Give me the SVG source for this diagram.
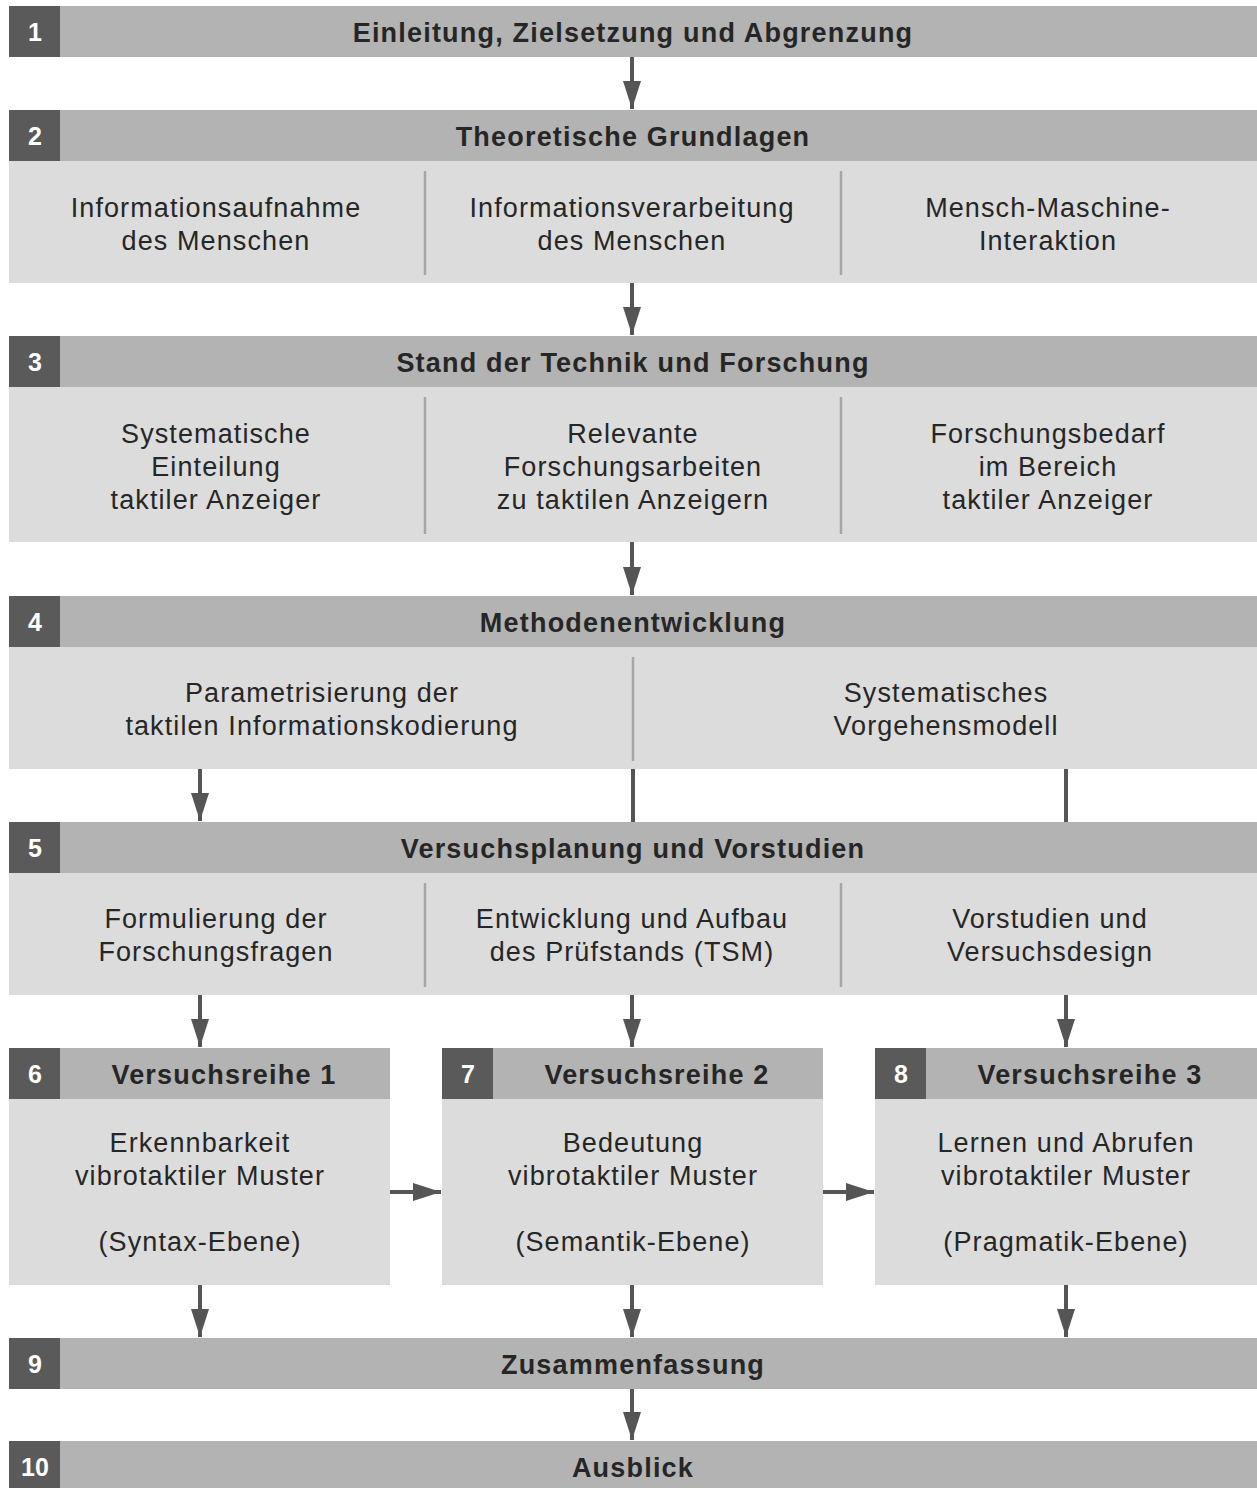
<svg xmlns="http://www.w3.org/2000/svg" width="1257" height="1488" viewBox="0 0 1257 1488">
  <style>
    .hd { fill: #b3b3b3; }
    .num { fill: #5a5a5a; }
    .body { fill: #dcdcdc; }
    .sep { stroke: #a6a6a6; stroke-width: 2.5; }
    .numt { font-family: "Liberation Sans", Arial, sans-serif; font-weight: bold; font-size: 25px; fill: #ffffff; text-anchor: middle; }
    .ht { font-family: "Liberation Sans", Arial, sans-serif; font-weight: bold; font-size: 27px; letter-spacing: 1.2px; fill: #262626; text-anchor: middle; }
    .bt { font-family: "Liberation Sans", Arial, sans-serif; font-size: 27px; letter-spacing: 1.1px; fill: #262626; text-anchor: middle; }
    .ln { stroke: #555555; stroke-width: 4; fill: none; }
    .ah { fill: #555555; }
  </style>
  <defs>
    <!-- arrowhead: 28 long, 18 wide -->
    <marker id="arr" markerUnits="userSpaceOnUse" markerWidth="28" markerHeight="18" refX="28" refY="9" orient="auto" viewBox="0 0 28 18">
      <path d="M0,0 L28,9 L0,18 Z" class="ah"/>
    </marker>
  </defs>
  <rect width="1257" height="1488" fill="#ffffff"/>

  <!-- 1 -->
  <g id="n1">
    <rect class="hd" x="9" y="6" width="1248" height="51"/>
    <rect class="num" x="9" y="6" width="51" height="51"/>
    <text class="numt" x="35" y="41">1</text>
    <text class="ht" x="633" y="42">Einleitung, Zielsetzung und Abgrenzung</text>
  </g>

  <!-- 2 -->
  <g id="n2">
    <rect class="hd" x="9" y="110" width="1248" height="51"/>
    <rect class="num" x="9" y="110" width="51" height="51"/>
    <text class="numt" x="35" y="145">2</text>
    <text class="ht" x="633" y="146">Theoretische Grundlagen</text>
    <rect class="body" x="9" y="161" width="1248" height="122"/>
    <line class="sep" x1="425" y1="171" x2="425" y2="275"/>
    <line class="sep" x1="841" y1="171" x2="841" y2="275"/>
    <text class="bt" x="216" y="217">Informationsaufnahme</text>
    <text class="bt" x="216" y="250">des Menschen</text>
    <text class="bt" x="632" y="217">Informationsverarbeitung</text>
    <text class="bt" x="632" y="250">des Menschen</text>
    <text class="bt" x="1048" y="217">Mensch-Maschine-</text>
    <text class="bt" x="1048" y="250">Interaktion</text>
  </g>

  <!-- 3 -->
  <g id="n3">
    <rect class="hd" x="9" y="336" width="1248" height="51"/>
    <rect class="num" x="9" y="336" width="51" height="51"/>
    <text class="numt" x="35" y="371">3</text>
    <text class="ht" x="633" y="372">Stand der Technik und Forschung</text>
    <rect class="body" x="9" y="387" width="1248" height="155"/>
    <line class="sep" x1="425" y1="397" x2="425" y2="534"/>
    <line class="sep" x1="841" y1="397" x2="841" y2="534"/>
    <text class="bt" x="216" y="443">Systematische</text>
    <text class="bt" x="216" y="476">Einteilung</text>
    <text class="bt" x="216" y="509">taktiler Anzeiger</text>
    <text class="bt" x="633" y="443">Relevante</text>
    <text class="bt" x="633" y="476">Forschungsarbeiten</text>
    <text class="bt" x="633" y="509">zu taktilen Anzeigern</text>
    <text class="bt" x="1048" y="443">Forschungsbedarf</text>
    <text class="bt" x="1048" y="476">im Bereich</text>
    <text class="bt" x="1048" y="509">taktiler Anzeiger</text>
  </g>

  <!-- 4 -->
  <g id="n4">
    <rect class="hd" x="9" y="596" width="1248" height="51"/>
    <rect class="num" x="9" y="596" width="51" height="51"/>
    <text class="numt" x="35" y="631">4</text>
    <text class="ht" x="633" y="632">Methodenentwicklung</text>
    <rect class="body" x="9" y="647" width="1248" height="122"/>
    <line class="sep" x1="633" y1="657" x2="633" y2="761"/>
    <text class="bt" x="322" y="702">Parametrisierung der</text>
    <text class="bt" x="322" y="735">taktilen Informationskodierung</text>
    <text class="bt" x="946" y="702">Systematisches</text>
    <text class="bt" x="946" y="735">Vorgehensmodell</text>
  </g>

  <!-- 5 -->
  <g id="n5">
    <rect class="hd" x="9" y="822" width="1248" height="51"/>
    <rect class="num" x="9" y="822" width="51" height="51"/>
    <text class="numt" x="35" y="857">5</text>
    <text class="ht" x="633" y="858">Versuchsplanung und Vorstudien</text>
    <rect class="body" x="9" y="873" width="1248" height="122"/>
    <line class="sep" x1="425" y1="883" x2="425" y2="987"/>
    <line class="sep" x1="841" y1="883" x2="841" y2="987"/>
    <text class="bt" x="216" y="928">Formulierung der</text>
    <text class="bt" x="216" y="961">Forschungsfragen</text>
    <text class="bt" x="632" y="928">Entwicklung und Aufbau</text>
    <text class="bt" x="632" y="961">des Prüfstands (TSM)</text>
    <text class="bt" x="1050" y="928">Vorstudien und</text>
    <text class="bt" x="1050" y="961">Versuchsdesign</text>
  </g>

  <!-- 6 -->
  <g id="n6">
    <rect class="hd" x="9" y="1048" width="381" height="51"/>
    <rect class="num" x="9" y="1048" width="51" height="51"/>
    <text class="numt" x="35" y="1083">6</text>
    <text class="ht" x="224" y="1084">Versuchsreihe 1</text>
    <rect class="body" x="9" y="1099" width="381" height="186"/>
    <text class="bt" x="200" y="1152">Erkennbarkeit</text>
    <text class="bt" x="200" y="1185">vibrotaktiler Muster</text>
    <text class="bt" x="200" y="1251">(Syntax-Ebene)</text>
  </g>

  <!-- 7 -->
  <g id="n7">
    <rect class="hd" x="442" y="1048" width="381" height="51"/>
    <rect class="num" x="442" y="1048" width="51" height="51"/>
    <text class="numt" x="468" y="1083">7</text>
    <text class="ht" x="657" y="1084">Versuchsreihe 2</text>
    <rect class="body" x="442" y="1099" width="381" height="186"/>
    <text class="bt" x="633" y="1152">Bedeutung</text>
    <text class="bt" x="633" y="1185">vibrotaktiler Muster</text>
    <text class="bt" x="633" y="1251">(Semantik-Ebene)</text>
  </g>

  <!-- 8 -->
  <g id="n8">
    <rect class="hd" x="875" y="1048" width="382" height="51"/>
    <rect class="num" x="875" y="1048" width="51" height="51"/>
    <text class="numt" x="901" y="1083">8</text>
    <text class="ht" x="1090" y="1084">Versuchsreihe 3</text>
    <rect class="body" x="875" y="1099" width="382" height="186"/>
    <text class="bt" x="1066" y="1152">Lernen und Abrufen</text>
    <text class="bt" x="1066" y="1185">vibrotaktiler Muster</text>
    <text class="bt" x="1066" y="1251">(Pragmatik-Ebene)</text>
  </g>

  <!-- 9 -->
  <g id="n9">
    <rect class="hd" x="9" y="1338" width="1248" height="51"/>
    <rect class="num" x="9" y="1338" width="51" height="51"/>
    <text class="numt" x="35" y="1373">9</text>
    <text class="ht" x="633" y="1374">Zusammenfassung</text>
  </g>

  <!-- 10 -->
  <g id="n10">
    <rect class="hd" x="9" y="1441" width="1248" height="47"/>
    <rect class="num" x="9" y="1441" width="51" height="47"/>
    <text class="numt" x="35" y="1476">10</text>
    <text class="ht" x="633" y="1477">Ausblick</text>
  </g>

  <!-- connectors -->
  <g id="connectors">
    <line class="ln" x1="632" y1="57" x2="632" y2="109" marker-end="url(#arr)"/>
    <line class="ln" x1="632" y1="283" x2="632" y2="335" marker-end="url(#arr)"/>
    <line class="ln" x1="632" y1="542" x2="632" y2="595" marker-end="url(#arr)"/>
    <line class="ln" x1="200" y1="769" x2="200" y2="821" marker-end="url(#arr)"/>
    <line class="ln" x1="633" y1="769" x2="633" y2="822"/>
    <line class="ln" x1="1066" y1="769" x2="1066" y2="822"/>
    <line class="ln" x1="200" y1="995" x2="200" y2="1047" marker-end="url(#arr)"/>
    <line class="ln" x1="632" y1="995" x2="632" y2="1047" marker-end="url(#arr)"/>
    <line class="ln" x1="1066" y1="995" x2="1066" y2="1047" marker-end="url(#arr)"/>
    <line class="ln" x1="390" y1="1192" x2="441" y2="1192" marker-end="url(#arr)"/>
    <line class="ln" x1="823" y1="1192" x2="874" y2="1192" marker-end="url(#arr)"/>
    <line class="ln" x1="200" y1="1285" x2="200" y2="1337" marker-end="url(#arr)"/>
    <line class="ln" x1="632" y1="1285" x2="632" y2="1337" marker-end="url(#arr)"/>
    <line class="ln" x1="1066" y1="1285" x2="1066" y2="1337" marker-end="url(#arr)"/>
    <line class="ln" x1="632" y1="1389" x2="632" y2="1440" marker-end="url(#arr)"/>
  </g>
</svg>
